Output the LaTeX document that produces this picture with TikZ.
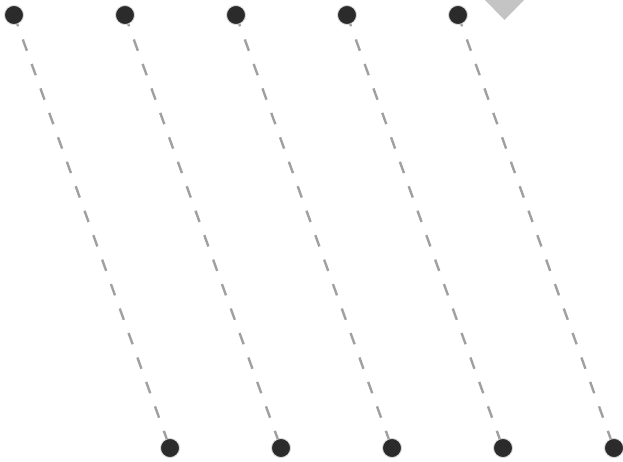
\documentclass[tikz,border=0pt]{standalone}
\usetikzlibrary{backgrounds}
\definecolor{dotgray}{HTML}{2B2B2B}
\definecolor{linegray}{HTML}{A0A0A0}
\definecolor{tipgray}{HTML}{C4C4C4}
\tikzset{
	pin/.style={circle,fill=dotgray,draw=white!85!black,line width=0.8pt,inner sep=0pt,minimum size=19pt},
	tie/.style={draw=linegray,line width=2.4pt,dash pattern=on 12pt off 14pt}
}
\begin{document}
\begin{tikzpicture}[x=1pt,y=-1pt,line join=round]
	\useasboundingbox (0,0) rectangle (623,461);
	% marker at the top edge
	\fill[tipgray] (483,-2)--(526,-2)--(504.5,20)--cycle;
	% upper and lower rows
	\foreach \i/\x in {1/14, 2/125, 3/236, 4/347, 5/458}
	{
		\node[pin] (t\i) at (\x,15) {};
		\node[pin] (b\i) at (\x+156,448) {};
	}
	\begin{scope}[on background layer]
		\foreach \i in {1,...,5}
		\draw[tie] (t\i.center)--(b\i.center);
	\end{scope}
\end{tikzpicture}
\end{document}
